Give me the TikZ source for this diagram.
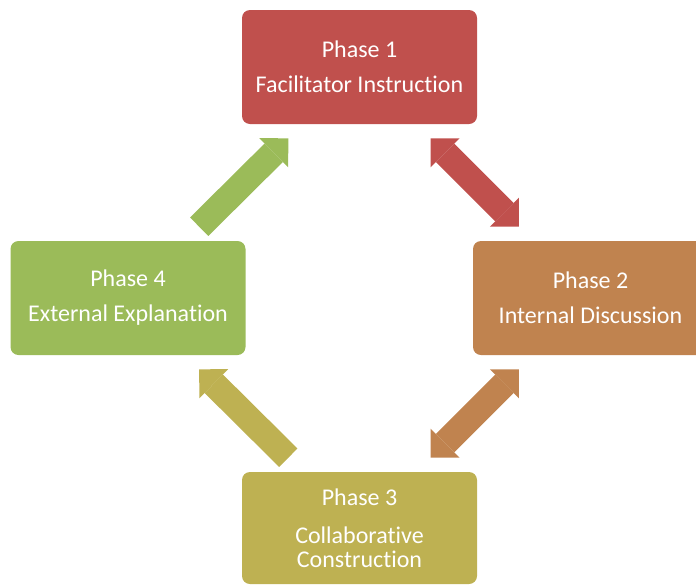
\documentclass[tikz,border=0pt]{standalone}
\usepackage{fontspec}
\setmainfont{Carlito}[Ligatures=NoCommon]
\usepackage{tikz}
\usetikzlibrary{arrows.meta}
\definecolor{phaseA}{HTML}{C0504D}
\definecolor{phaseB}{HTML}{C0834F}
\definecolor{phaseC}{HTML}{BEB152}
\definecolor{phaseD}{HTML}{9BBB59}
\tikzset{
  phase/.style={rounded corners=8pt, minimum width=235pt, minimum height=114pt,
    inner sep=0pt, align=center, text=white, font=\fontsize{24}{24}\selectfont},
  link/.style={line width=26pt, shorten <=20pt, shorten >=20pt},
  one/.style={link, arrows={-Triangle[length=20.5pt,width=41pt,line width=0pt]}},
  both/.style={link, arrows={Triangle[length=20.5pt,width=41pt,line width=0pt]-Triangle[length=20.5pt,width=41pt,line width=0pt]}},
}

\begin{document}
\begin{tikzpicture}[x=1pt,y=-1pt]
  \useasboundingbox (0,0) rectangle (696,584);
  \clip (0,0) rectangle (696,584);

  % the four phases
  \node[phase,fill=phaseA] (p1) at (359.5,67) {Phase 1\\[11pt]Facilitator Instruction};
  \node[phase,fill=phaseB] (p2) at (590.5,298) {Phase 2\\[11pt]Internal Discussion};
  \node[phase,fill=phaseC,minimum height=112pt] (p3) at (359.5,528)
    {Phase 3\\[14pt]Collaborative\\Construction};
  \node[phase,fill=phaseD] (p4) at (128,298) {Phase 4\\[11pt]External Explanation};

  % end points of the arrows on the box edges
  \coordinate (p1r) at ([xshift=57pt]p1.south);
  \coordinate (p1l) at ([xshift=-57pt]p1.south);
  \coordinate (p2t) at ([xshift=-57.5pt]p2.north);
  \coordinate (p2b) at ([xshift=-57.5pt]p2.south);
  \coordinate (p3r) at ([xshift=57pt]p3.north);
  \coordinate (p3l) at ([xshift=-57pt]p3.north);
  \coordinate (p4t) at ([xshift=57pt]p4.north);
  \coordinate (p4b) at ([xshift=57pt]p4.south);

  \draw[both,draw=phaseA,fill=phaseA] (p1r) -- (p2t);
  \draw[both,draw=phaseB,fill=phaseB] (p2b) -- (p3r);
  \draw[one,draw=phaseC,fill=phaseC] (p3l) -- (p4b);
  \draw[one,draw=phaseD,fill=phaseD] (p4t) -- (p1l);
\end{tikzpicture}
\end{document}
